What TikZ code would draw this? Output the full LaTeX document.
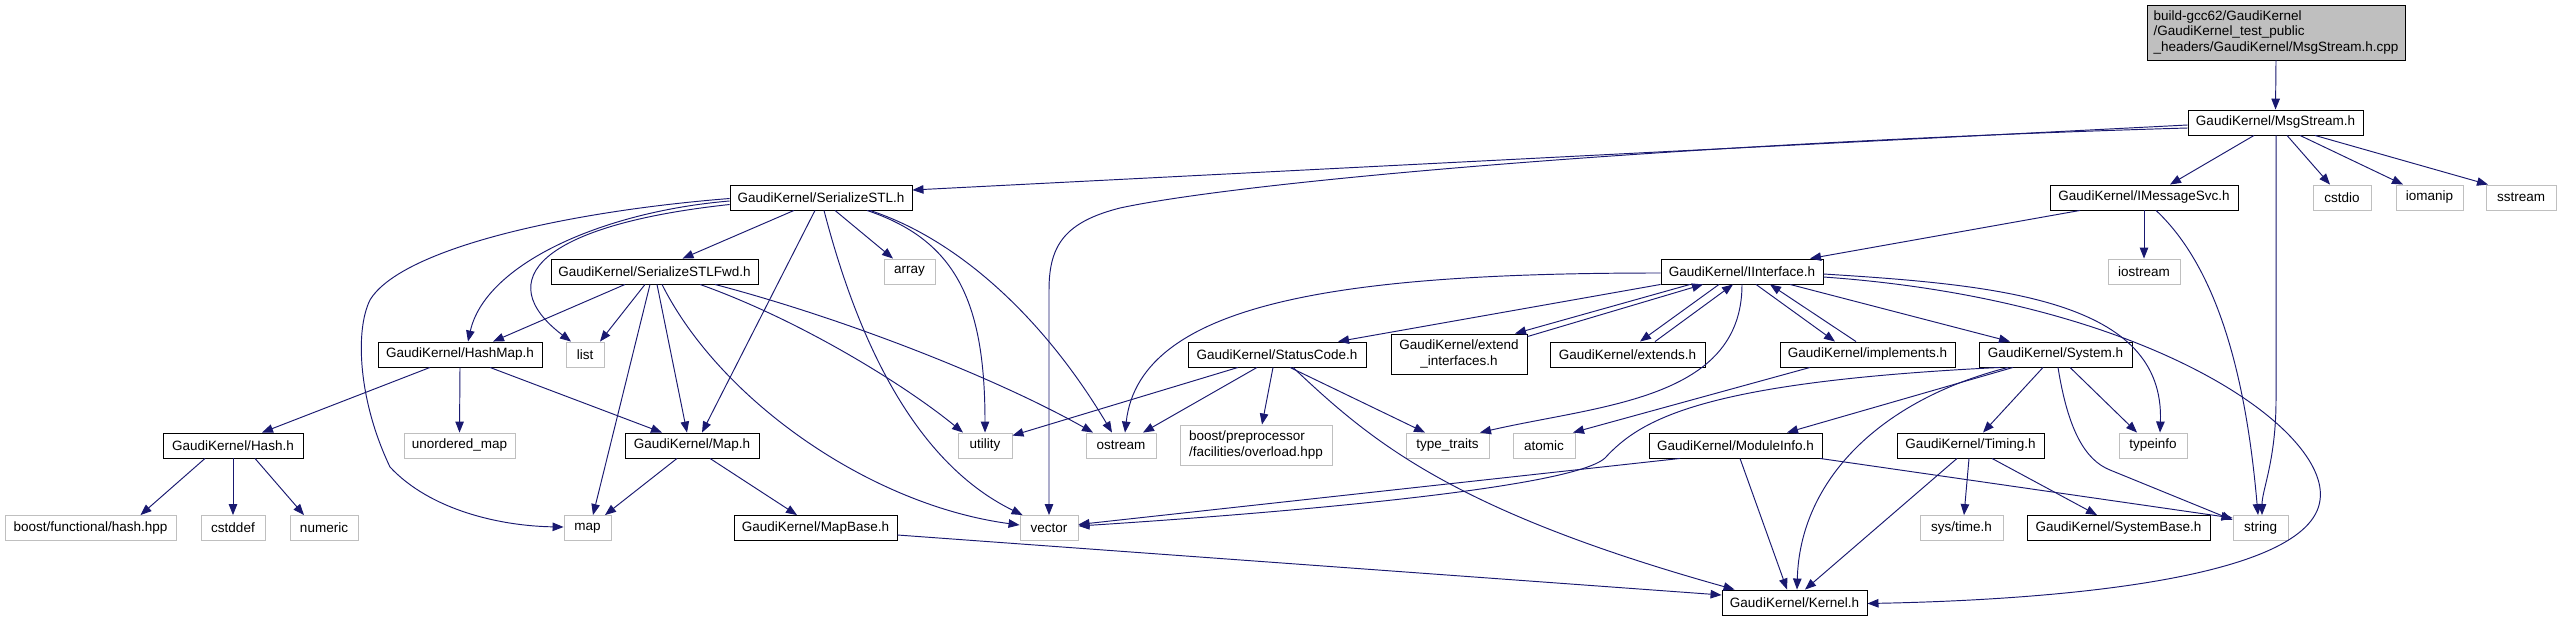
\documentclass[tikz,border=0pt]{standalone}
\usepackage{fontspec}
\setmainfont{Liberation Sans}
\usetikzlibrary{arrows.meta,calc}
\definecolor{edgec}{HTML}{191970}
\definecolor{sysc}{HTML}{BFBFBF}
\begin{document}
\begin{tikzpicture}[x=1pt,y=-1pt,
  box/.style={draw=black,line width=0.9pt,minimum height=25pt,inner sep=0pt,font=\fontsize{13.5}{15.5}\selectfont},
  sys/.style={box,draw=sysc},
  edge/.style={draw=edgec,line width=0.95pt,-{Triangle[length=11pt,width=8.5pt]}}]
\fill[white] (0,0) rectangle (2561,621);
\useasboundingbox (0,0) rectangle (2561,621);
% nodes
\node[box,fill=sysc,minimum width=258pt,minimum height=55pt,align=left] (root) at (2276,32.5) {build-gcc62/GaudiKernel\\/GaudiKernel\_test\_public\\\_headers/GaudiKernel/MsgStream.h.cpp};
\node[box,minimum width=175pt] (msg) at (2275.5,122.5) {GaudiKernel/MsgStream.h};
\node[box,minimum width=188pt] (imsg) at (2144,197.5) {GaudiKernel/IMessageSvc.h};
\node[sys,minimum width=58pt] (cstdio) at (2342,197.5) {cstdio};
\node[sys,minimum width=67pt] (iomanip) at (2429.5,197.5) {iomanip};
\node[sys,minimum width=70pt] (sstream) at (2521,197.5) {sstream};
\node[box,minimum width=182pt] (sstl) at (821,197.5) {GaudiKernel/SerializeSTL.h};
\node[box,minimum width=207pt] (fwd) at (654.5,271.5) {GaudiKernel/SerializeSTLFwd.h};
\node[sys,minimum width=51pt] (array) at (909.5,271.5) {array};
\node[box,minimum width=162pt] (iint) at (1742,271.5) {GaudiKernel/IInterface.h};
\node[sys,minimum width=72pt] (iostream) at (2144,271.5) {iostream};
\node[box,minimum width=164pt] (hashmap) at (460,354.5) {GaudiKernel/HashMap.h};
\node[sys,minimum width=38pt] (list) at (585,354.5) {list};
\node[box,minimum width=178pt] (status) at (1277,354.5) {GaudiKernel/StatusCode.h};
\node[box,minimum width=136pt,minimum height=40pt,align=center] (extint) at (1459,354) {GaudiKernel/extend\\\_interfaces.h};
\node[box,minimum width=155pt] (extends) at (1627.5,354.5) {GaudiKernel/extends.h};
\node[box,minimum width=175pt] (impl) at (1867.5,354.5) {GaudiKernel/implements.h};
\node[box,minimum width=153pt] (system) at (2055.5,354.5) {GaudiKernel/System.h};
\node[box,minimum width=140pt] (hash) at (233,445.5) {GaudiKernel/Hash.h};
\node[sys,minimum width=111pt] (umap) at (459.5,445.5) {unordered\_map};
\node[box,minimum width=134pt] (mapH) at (692,445.5) {GaudiKernel/Map.h};
\node[sys,minimum width=54pt] (utility) at (985,445.5) {utility};
\node[sys,minimum width=70pt] (ostream) at (1121,445.5) {ostream};
\node[sys,minimum width=152pt,minimum height=40pt,align=left] (bpp) at (1256,445) {boost/preprocessor\\/facilities/overload.hpp};
\node[sys,minimum width=83pt] (ttraits) at (1447.5,445.5) {type\_traits};
\node[sys,minimum width=62pt] (atomic) at (1544,445.5) {atomic};
\node[box,minimum width=173pt] (modinfo) at (1735.5,445.5) {GaudiKernel/ModuleInfo.h};
\node[box,minimum width=147pt] (timing) at (1970.5,445.5) {GaudiKernel/Timing.h};
\node[sys,minimum width=68pt] (typeinfo) at (2153,445.5) {typeinfo};
\node[sys,minimum width=171pt] (bfh) at (90.5,528) {boost/functional/hash.hpp};
\node[sys,minimum width=64pt] (cstddef) at (233,528) {cstddef};
\node[sys,minimum width=68pt] (numeric) at (324,528) {numeric};
\node[sys,minimum width=47pt] (map) at (587.5,528) {map};
\node[box,minimum width=163pt] (mapbase) at (815.5,528) {GaudiKernel/MapBase.h};
\node[sys,minimum width=58pt] (vector) at (1049,528) {vector};
\node[sys,minimum width=83pt] (systime) at (1961.5,528) {sys/time.h};
\node[box,minimum width=183pt] (sysbase) at (2118.5,528) {GaudiKernel/SystemBase.h};
\node[sys,minimum width=55pt] (string) at (2260.5,528) {string};
\node[box,minimum width=145pt] (kernel) at (1794.5,602.5) {GaudiKernel/Kernel.h};
% edges
\draw[edge] (root.south) -- (msg.north);
\draw[edge] ($(msg.west)+(0,2.5)$) -- ($(sstl.east)+(0,-7.5)$);
\draw[edge] ($(msg.west)+(0,5.5)$) .. controls (1700,142) and (1250,180) .. (1120,208) .. controls (1065,222) and (1049,245) .. (1049,290) -- (vector.north);
\draw[edge] ($(msg.south)+(-21.5,0)$) -- ($(imsg.north)+(26,0)$);
\draw[edge] ($(msg.south)+(0.5,0)$) -- (2276,400) .. controls (2276,460) and (2262,490) .. ($(string.north)+(1.5,0)$);
\draw[edge] ($(msg.south)+(11.5,0)$) -- ($(cstdio.north)+(-12,0)$);
\draw[edge] ($(msg.south)+(24.5,0)$) -- ($(iomanip.north)+(-26.5,0)$);
\draw[edge] ($(msg.south)+(39.5,0)$) -- ($(sstream.north)+(-33,0)$);
\draw[edge] ($(imsg.south)+(-64,0)$) -- ($(iint.north)+(68,0)$);
\draw[edge] (imsg.south) -- (iostream.north);
\draw[edge] ($(imsg.south)+(12,0)$) .. controls (2225,275) and (2248,400) .. ($(string.north)+(-2.5,0)$);
\draw[edge] ($(sstl.south)+(-27,0)$) -- ($(fwd.north)+(28,0)$);
\draw[edge] ($(sstl.west)+(0,3.5)$) .. controls (600,212) and (485,265) .. ($(hashmap.north)+(8,0)$);
\draw[edge] ($(sstl.west)+(0,7)$) .. controls (540,225) and (490,280) .. ($(list.north)+(-14,0)$);
\draw[edge] ($(sstl.west)+(0,1)$) .. controls (560,212) and (400,250) .. (370,300) .. controls (355,330) and (358,400) .. (390,467) .. controls (430,510) and (500,526) .. ($(map.west)+(0,-1)$);
\draw[edge] ($(sstl.south)+(14,0)$) -- ($(array.north)+(-16.5,0)$);
\draw[edge] ($(sstl.south)+(46,0)$) .. controls (955,240) and (985,300) .. (utility.north);
\draw[edge] ($(sstl.south)+(49,0)$) .. controls (960,240) and (1045,320) .. ($(ostream.north)+(-9,0)$);
\draw[edge] ($(sstl.south)+(3,0)$) .. controls (855,330) and (910,460) .. ($(vector.north west)+(3,0)$);
\draw[edge] ($(sstl.south)+(-6,0)$) -- ($(mapH.north)+(10,0)$);
\draw[edge] ($(fwd.south)+(-29.5,0)$) -- ($(hashmap.north)+(33,0)$);
\draw[edge] ($(fwd.south)+(-9.5,0)$) -- ($(list.north)+(15,0)$);
\draw[edge] ($(fwd.south)+(-4.5,0)$) -- ($(map.north)+(5.5,0)$);
\draw[edge] ($(fwd.south)+(2.5,0)$) -- ($(mapH.north)+(-5,0)$);
\draw[edge] ($(fwd.south)+(7.5,0)$) .. controls (720,400) and (870,505) .. ($(vector.west)+(0,-3)$);
\draw[edge] ($(fwd.south)+(45.5,0)$) .. controls (800,320) and (905,385) .. ($(utility.north)+(-22,0)$);
\draw[edge] ($(fwd.south)+(60.5,0)$) .. controls (850,320) and (1000,380) .. ($(ostream.north)+(-28,0)$);
\draw[edge] ($(hashmap.south)+(-30,0)$) -- ($(hash.north)+(29,0)$);
\draw[edge] (hashmap.south) -- (umap.north);
\draw[edge] ($(hashmap.south)+(30,0)$) -- ($(mapH.north)+(-30,0)$);
\draw[edge] ($(hash.south)+(-28,0)$) -- ($(bfh.north)+(50,0)$);
\draw[edge] (hash.south) -- (cstddef.north);
\draw[edge] ($(hash.south)+(22,0)$) -- ($(numeric.north)+(-20,0)$);
\draw[edge] ($(mapH.south)+(-15,0)$) -- ($(map.north)+(17.5,0)$);
\draw[edge] ($(mapH.south)+(18,0)$) -- ($(mapbase.north)+(-18.5,0)$);
\draw[edge] ($(mapbase.east)+(0,7)$) -- ($(kernel.west)+(0,-7.5)$);
\draw[edge] ($(iint.west)+(0,1.5)$) .. controls (1350,273) and (1140,300) .. ($(ostream.north)+(4,0)$);
\draw[edge] (iint.south west) -- ($(status.north)+(61,0)$);
\draw[edge] ($(iint.south)+(-52,0)$) -- ($(extint.north)+(56,0)$);
\draw[edge] ($(extint.north east)+(0,3)$) -- ($(iint.south)+(-39,0)$);
\draw[edge] ($(iint.south)+(-23,0)$) -- ($(extends.north)+(12.5,0)$);
\draw[edge] ($(extends.north)+(27.5,0)$) -- ($(iint.south)+(-9,0)$);
\draw[edge] ($(iint.south)+(14,0)$) -- ($(impl.north)+(-32.5,0)$);
\draw[edge] ($(impl.north)+(-11.5,0)$) -- ($(iint.south)+(28,0)$);
\draw[edge] ($(iint.south)+(48,0)$) -- ($(system.north)+(-45.5,0)$);
\draw[edge] (iint.south) .. controls (1742,400) and (1600,405) .. ($(ttraits.north)+(32.5,0)$);
\draw[edge] ($(iint.east)+(0,2.5)$) .. controls (2000,285) and (2165,300) .. ($(typeinfo.north)+(7,0)$);
\draw[edge] ($(iint.east)+(0,5.5)$) .. controls (2150,300) and (2330,430) .. (2320,500) .. controls (2310,580) and (2050,600) .. ($(kernel.east)+(0,1)$);
\draw[edge] ($(status.south)+(-39,0)$) -- ($(utility.north east)+(0,3)$);
\draw[edge] ($(status.south)+(-20,0)$) -- ($(ostream.north)+(22,0)$);
\draw[edge] ($(status.south)+(-4,0)$) -- ($(bpp.north)+(6,0)$);
\draw[edge] ($(status.south)+(13,0)$) -- ($(ttraits.north)+(-22.5,0)$);
\draw[edge] ($(status.south)+(16,0)$) .. controls (1370,440) and (1450,510) .. ($(kernel.north west)+(13,0)$);
\draw[edge] ($(impl.south)+(-57.5,0)$) -- ($(atomic.north)+(29,0)$);
\draw[edge] ($(system.south)+(-42.5,0)$) -- ($(modinfo.north)+(51.5,0)$);
\draw[edge] ($(system.south)+(-55.5,0)$) .. controls (1700,382) and (1640,420) .. (1605,458) .. controls (1570,490) and (1250,515) .. ($(vector.east)+(0,-2)$);
\draw[edge] ($(system.south)+(-47.5,0)$) .. controls (1880,400) and (1800,480) .. ($(kernel.north)+(2.5,0)$);
\draw[edge] ($(system.south)+(-12.5,0)$) -- ($(timing.north)+(12.5,0)$);
\draw[edge] ($(system.south)+(14.5,0)$) -- ($(typeinfo.north)+(-16,0)$);
\draw[edge] ($(system.south)+(2.5,0)$) .. controls (2068,430) and (2085,460) .. (2110,470) -- ($(string.west)+(0,-8)$);
\draw[edge] ($(modinfo.south)+(-55.5,0)$) -- ($(vector.east)+(0,-3.5)$);
\draw[edge] ($(modinfo.south)+(84.5,0)$) -- ($(string.west)+(0,-10)$);
\draw[edge] ($(modinfo.south)+(4.5,0)$) -- ($(kernel.north)+(-7.5,0)$);
\draw[edge] ($(timing.south)+(-13.5,0)$) -- ($(kernel.north)+(10.5,0)$);
\draw[edge] ($(timing.south)+(-1.5,0)$) -- ($(systime.north)+(2.5,0)$);
\draw[edge] ($(timing.south)+(21.5,0)$) -- ($(sysbase.north)+(-21.5,0)$);
\end{tikzpicture}
\end{document}
